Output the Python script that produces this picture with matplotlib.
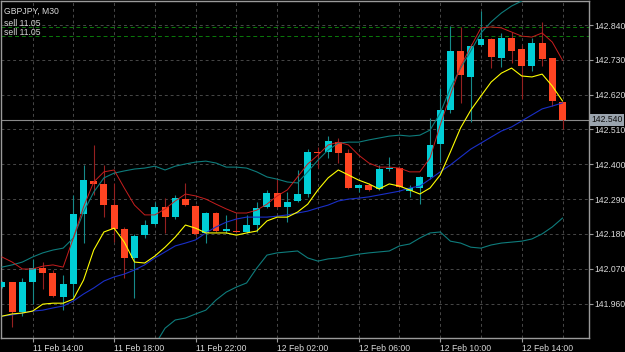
import numpy as np
import matplotlib.pyplot as plt
from matplotlib.transforms import blended_transform_factory

SIMBOLO = 'GBPJPY, M30'
ORDENS_PRECO = [142.834, 142.805]
ORDENS_TEXTO = ['sell 11.05', 'sell 11.05']
ULTIMO_PRECO = 142.540

ROTULOS_TEMPO = ['11 Feb 14:00', '11 Feb 18:00', '11 Feb 22:00', '12 Feb 02:00',
                 '12 Feb 06:00', '12 Feb 10:00', '12 Feb 14:00']
BARRAS_ROTULO = [3, 11, 19, 27, 35, 43, 51]
BARRAS_GRADE = [7, 15, 23, 31, 39, 47, 55]
PRECOS_EIXO = [141.960, 142.070, 142.180, 142.290, 142.400, 142.510, 142.620, 142.730, 142.840]

# candles M30 (abertura, maxima, minima, fechamento)
aberturas = [142.012, 142.028, 141.933, 142.028, 142.072, 142.056, 141.981, 142.022, 142.243, 142.347,
             142.338, 142.271, 142.195, 142.104, 142.176, 142.211, 142.265, 142.233, 142.290, 142.268,
             142.183, 142.246, 142.189, 142.190, 142.186, 142.208, 142.265, 142.309, 142.265, 142.284,
             142.306, 142.439, 142.439, 142.470, 142.436, 142.325, 142.334, 142.322, 142.385, 142.388,
             142.315, 142.325, 142.360, 142.464, 142.571, 142.758, 142.676, 142.777, 142.796, 142.736,
             142.799, 142.764, 142.710, 142.783, 142.736, 142.597]
fechamentos = [142.028, 141.933, 142.028, 142.072, 142.056, 141.984, 142.022, 142.243, 142.350, 142.338,
               142.271, 142.195, 142.104, 142.173, 142.208, 142.265, 142.233, 142.293, 142.271, 142.180,
               142.246, 142.189, 142.195, 142.187, 142.208, 142.262, 142.309, 142.265, 142.281, 142.306,
               142.439, 142.436, 142.473, 142.436, 142.325, 142.334, 142.319, 142.385, 142.388, 142.328,
               142.325, 142.360, 142.461, 142.571, 142.758, 142.682, 142.774, 142.796, 142.739, 142.799,
               142.758, 142.710, 142.783, 142.733, 142.600, 142.540]
maximas = [142.031, 142.028, 142.041, 142.101, 142.091, 142.066, 142.050, 142.303, 142.398, 142.461,
           142.398, 142.341, 142.202, 142.180, 142.224, 142.281, 142.293, 142.303, 142.341, 142.271,
           142.249, 142.249, 142.240, 142.240, 142.240, 142.281, 142.319, 142.357, 142.312, 142.382,
           142.448, 142.455, 142.489, 142.483, 142.448, 142.334, 142.341, 142.398, 142.423, 142.391,
           142.334, 142.363, 142.546, 142.641, 142.837, 142.834, 142.780, 142.884, 142.799, 142.815,
           142.818, 142.777, 142.799, 142.850, 142.736, 142.597]
minimas = [142.009, 141.886, 141.920, 141.958, 142.006, 141.981, 141.939, 141.981, 142.151, 142.303,
           142.233, 142.154, 142.041, 141.977, 142.167, 142.208, 142.183, 142.227, 142.268, 142.173,
           142.151, 142.186, 142.183, 142.186, 142.183, 142.186, 142.262, 142.262, 142.217, 142.281,
           142.297, 142.388, 142.420, 142.404, 142.322, 142.312, 142.315, 142.319, 142.379, 142.325,
           142.297, 142.274, 142.353, 142.407, 142.562, 142.593, 142.533, 142.774, 142.704, 142.707,
           142.720, 142.606, 142.695, 142.710, 142.584, 142.511]

# indicadores
linha_vermelha = [142.107, 142.091, 142.069, 142.069, 142.078, 142.082, 142.075, 142.167, 142.265, 142.344,
                  142.376, 142.382, 142.325, 142.271, 142.240, 142.240, 142.259, 142.284, 142.306, 142.300,
                  142.290, 142.274, 142.259, 142.246, 142.246, 142.255, 142.274, 142.300, 142.319, 142.360,
                  142.401, 142.429, 142.461, 142.470, 142.461, 142.429, 142.404, 142.391, 142.391, 142.388,
                  142.376, 142.376, 142.420, 142.524, 142.619, 142.710, 142.771, 142.831, 142.834, 142.831,
                  142.818, 142.805, 142.802, 142.815, 142.786, 142.729]
media_amarela = [141.920, 141.927, 141.930, 141.936, 141.958, 141.961, 141.961, 141.974, 142.034, 142.129,
                 142.186, 142.198, 142.154, 142.091, 142.088, 142.110, 142.138, 142.170, 142.208, 142.198,
                 142.183, 142.183, 142.183, 142.176, 142.183, 142.189, 142.221, 142.233, 142.233, 142.249,
                 142.274, 142.319, 142.357, 142.382, 142.366, 142.350, 142.338, 142.322, 142.338, 142.331,
                 142.319, 142.306, 142.325, 142.366, 142.439, 142.515, 142.571, 142.616, 142.660, 142.688,
                 142.704, 142.679, 142.676, 142.685, 142.647, 142.600]
media_azul = [141.920, 141.924, 141.930, 141.936, 141.939, 141.946, 141.952, 141.968, 141.990, 142.009,
              142.031, 142.044, 142.053, 142.066, 142.082, 142.104, 142.123, 142.142, 142.151, 142.161,
              142.183, 142.202, 142.217, 142.227, 142.233, 142.233, 142.233, 142.236, 142.240, 142.246,
              142.252, 142.262, 142.271, 142.284, 142.290, 142.293, 142.297, 142.303, 142.309, 142.315,
              142.325, 142.331, 142.353, 142.376, 142.398, 142.423, 142.448, 142.467, 142.486, 142.505,
              142.518, 142.537, 142.556, 142.575, 142.584, 142.594]
banda_sup = [142.075, 142.082, 142.091, 142.107, 142.120, 142.129, 142.135, 142.167, 142.249, 142.312,
             142.357, 142.372, 142.379, 142.385, 142.388, 142.394, 142.382, 142.394, 142.401, 142.407,
             142.410, 142.404, 142.391, 142.391, 142.388, 142.376, 142.360, 142.353, 142.344, 142.341,
             142.376, 142.413, 142.445, 142.467, 142.470, 142.470, 142.477, 142.483, 142.489, 142.492,
             142.489, 142.492, 142.508, 142.562, 142.641, 142.704, 142.758, 142.815, 142.850, 142.878,
             142.900, 142.916, 142.935, 142.951, 142.966, 142.982]
nan = float('nan')
banda_inf = [nan, nan, nan, nan, nan, nan, nan, nan, nan, nan,
             nan, nan, nan, nan, nan, 141.829, 141.882, 141.908, 141.914, 141.927,
             141.939, 141.971, 141.996, 142.012, 142.025, 142.072, 142.113, 142.120, 142.123, 142.126,
             142.104, 142.094, 142.101, 142.104, 142.110, 142.116, 142.120, 142.123, 142.126, 142.142,
             142.148, 142.167, 142.183, 142.186, 142.157, 142.151, 142.138, 142.135, 142.145, 142.151,
             142.154, 142.157, 142.164, 142.180, 142.202, 142.230]

COR_ALTA = '#00ced6'
COR_BAIXA = '#ff4422'
PAVIO_ALTA = '#168a8a'
PAVIO_BAIXA = '#962020'
COR_TEXTO = '#d8d8d8'
FONTE = 'Liberation Sans'
TAM = 6.2


def desenhar_candles(ax):
    o = np.array(aberturas)
    c = np.array(fechamentos)
    x = np.arange(len(o))
    alta = c >= o
    pavio = [PAVIO_ALTA if a else PAVIO_BAIXA for a in alta]
    corpo = [COR_ALTA if a else COR_BAIXA for a in alta]
    ax.vlines(x, minimas, maximas, colors=pavio, linewidth=0.8, zorder=2)
    altura = np.maximum(np.abs(c - o), 0.0035)
    ax.bar(x, altura, bottom=np.minimum(o, c), width=0.68, color=corpo,
           linewidth=0, zorder=3)


def desenhar_indicadores(ax):
    x = np.arange(len(aberturas))
    ax.plot(x, banda_sup, color='#0e7c7c', lw=0.8, zorder=4)
    ax.plot(x, banda_inf, color='#0e7c7c', lw=0.8, zorder=4)
    ax.plot(x, media_azul, color='#1a2fc8', lw=0.8, zorder=4)
    ax.plot(x, linha_vermelha, color='#c81e1e', lw=0.7, zorder=5)
    ax.plot(x, media_amarela, color='#ffff00', lw=0.8, zorder=5)


def configurar_eixos(ax):
    ax.set_facecolor('black')
    ax.set_xlim(-0.098, 57.6)
    ax.set_ylim(141.851, 142.916)

    ax.set_xticks(BARRAS_ROTULO)
    ax.set_xticklabels(ROTULOS_TEMPO)
    ax.set_xticks(BARRAS_GRADE, minor=True)
    for rot in ax.get_xticklabels():
        rot.set_horizontalalignment('left')
    ax.tick_params(axis='x', which='major', length=3, pad=1, color='#9a9a9a',
                   labelcolor=COR_TEXTO, labelsize=TAM)
    ax.tick_params(axis='x', which='minor', length=0)

    ax.yaxis.tick_right()
    ax.set_yticks(PRECOS_EIXO)
    ax.set_yticklabels([f'{p:.3f}' for p in PRECOS_EIXO])
    ax.tick_params(axis='y', length=3, pad=1, color='#9a9a9a',
                   labelcolor=COR_TEXTO, labelsize=TAM)
    for rot in ax.get_xticklabels() + ax.get_yticklabels():
        rot.set_fontfamily(FONTE)

    ax.grid(True, which='both', color='#484848', linestyle=(0, (3, 3)), linewidth=0.7)
    ax.set_axisbelow(True)
    for lado in ax.spines.values():
        lado.set_color('#9a9a9a')
        lado.set_linewidth(1)


def desenhar_anotacoes(ax):
    trans = blended_transform_factory(ax.transAxes, ax.transData)
    for preco, texto in zip(ORDENS_PRECO, ORDENS_TEXTO):
        ax.axhline(preco, color='#0a7a0a', linestyle=(0, (4, 3)), linewidth=0.7, zorder=1)
        ax.text(0.005, preco - 0.004, texto, transform=trans, color=COR_TEXTO,
                fontsize=TAM, family=FONTE, va='bottom', ha='left')

    ax.text(0.005, 0.983, SIMBOLO, transform=ax.transAxes, color=COR_TEXTO,
            fontsize=TAM, family=FONTE, va='top', ha='left')

    # linha do preco atual
    ax.axhline(ULTIMO_PRECO, color='#8a8a8a', linewidth=0.8, zorder=1)
    ax.text(1.004, ULTIMO_PRECO, f'{ULTIMO_PRECO:.3f}', transform=trans,
            color='#101010', fontsize=TAM, family=FONTE, va='center', ha='left',
            bbox=dict(boxstyle='square,pad=0.15', facecolor='#9aa4ae', edgecolor='none'),
            clip_on=False, zorder=10)


def main():
    fig = plt.figure(figsize=(6.25, 3.52), dpi=100, facecolor='black')
    ax = fig.add_axes([1 / 625, 14 / 352, 588 / 625, 337 / 352])
    configurar_eixos(ax)
    desenhar_candles(ax)
    desenhar_indicadores(ax)
    desenhar_anotacoes(ax)
    fig.savefig('out.png', dpi=100, facecolor='black')
    plt.close(fig)


if __name__ == '__main__':
    main()
